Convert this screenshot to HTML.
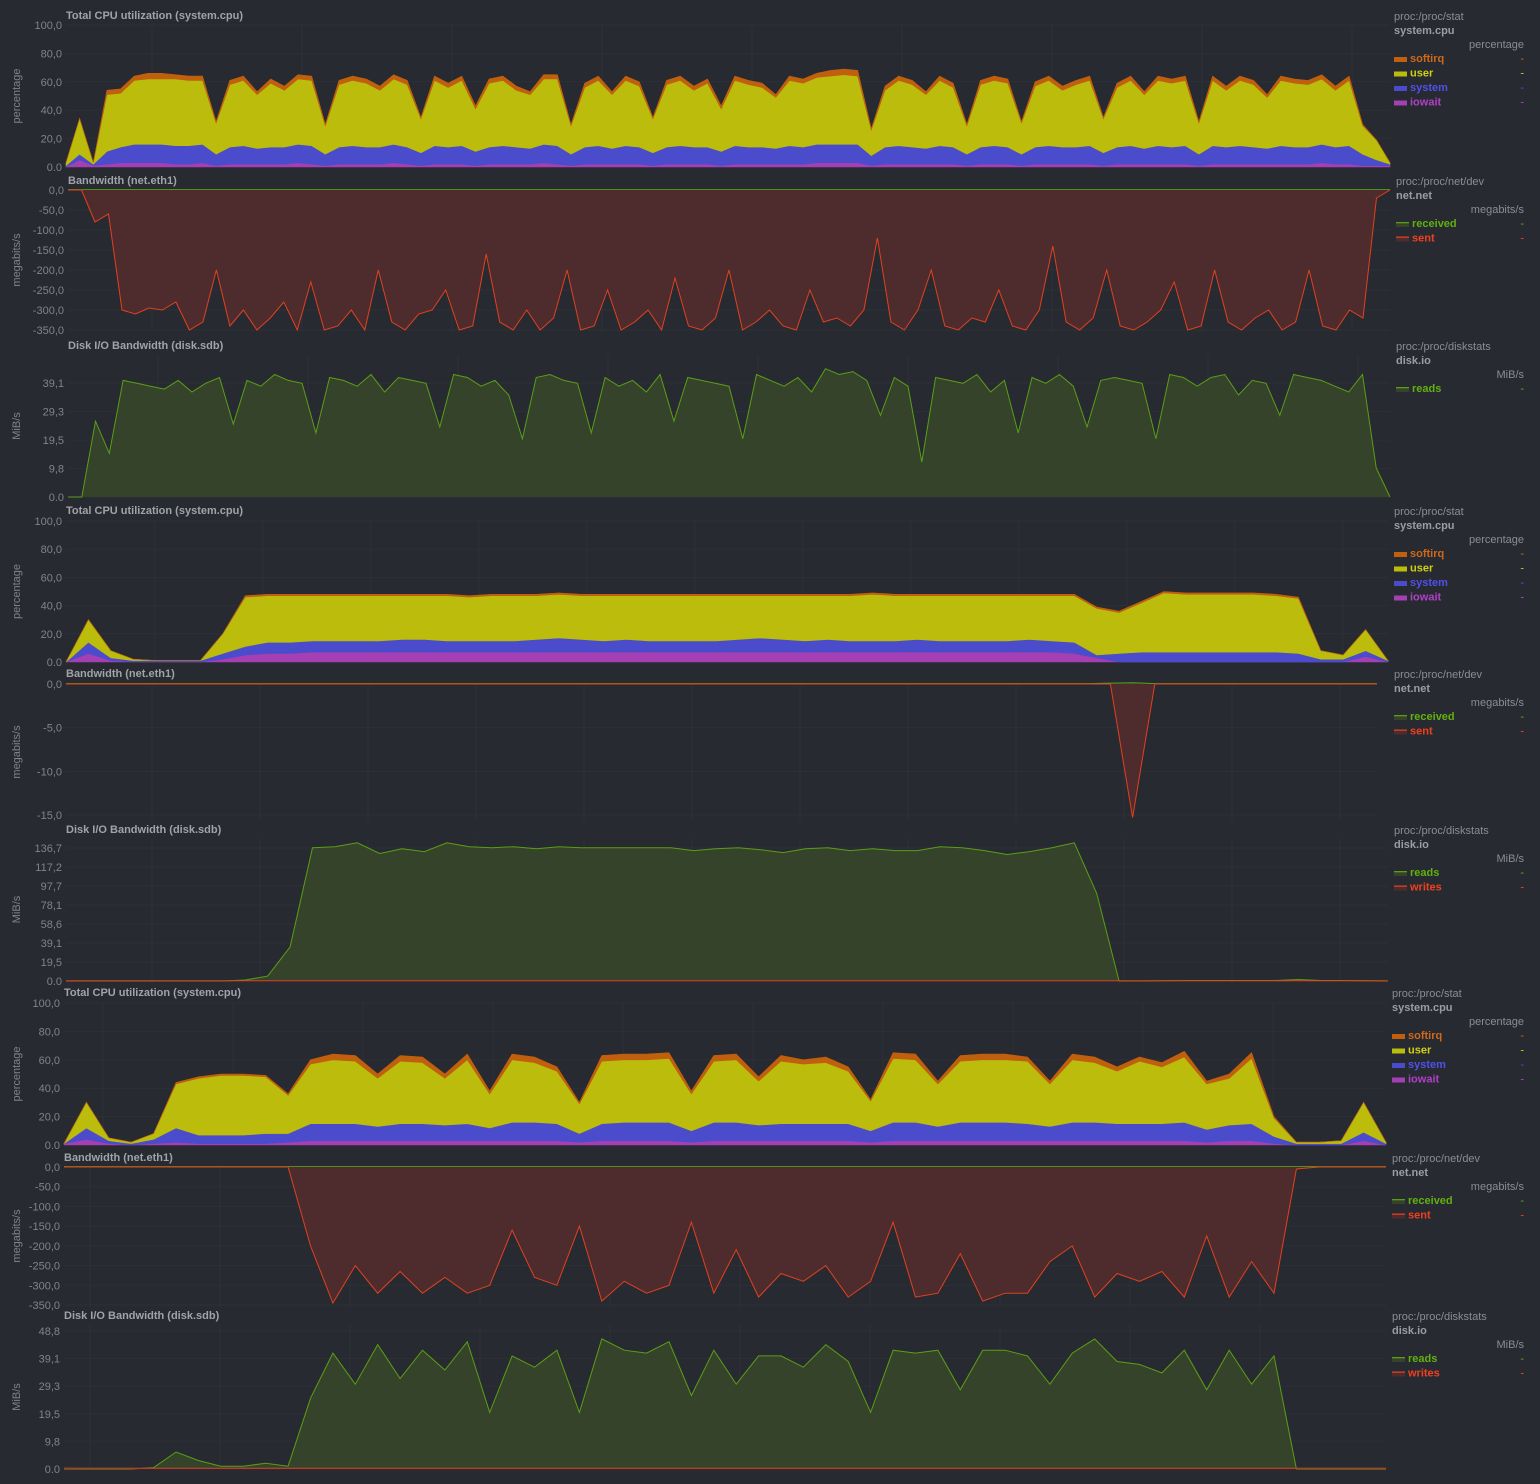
<!DOCTYPE html>
<html><head><meta charset="utf-8"><style>
html,body{margin:0;padding:0;background:#272a30;}
svg{display:block;font-family:"Liberation Sans",sans-serif;}
</style></head><body>
<svg id="root" width="1540" height="1484" viewBox="0 0 1540 1484"></svg>
<script>
// ---------- DATA ----------
const cpu1Iowait=[0,5,1,2,3,3,3,3, 2,2,3,1,2,2,2,2,2,3, 2,1,2,2,2,2,3,2,1,2, 2,2,1,2,2,2,2,3,2,1, 2,2,2,2,2,1,2,2,2,2, 1,2,2,2,2,2,2,3,3,3, 3,1,2,2,2,2,2,2,1,2, 2,2,1,2,2,2,2,2,1,2, 2,2,2,2,2,1,2,2,2,2, 2,2,2,2,3,2,2,1,1,1];
const cpu1System=[1,4,1,9,11,13,13,13, 13,13,13,8,12,13,11,12,12,13, 13,8,12,13,12,12,13,12,9,13, 12,13,10,12,13,12,11,13,13,8, 12,13,11,13,12,9,12,13,12,12, 10,13,12,12,11,13,12,13,13,13, 13,7,12,13,12,11,13,12,8,12, 13,12,8,12,13,12,12,13,9,12, 13,11,13,12,13,8,13,12,13,12, 11,13,12,12,13,12,13,8,4,1];
const cpu1User=[2,25,1,40,38,45,46,46, 47,46,45,22,44,46,38,45,40,46, 46,20,44,46,45,40,46,44,24,46, 42,46,30,45,46,40,38,46,47,20, 42,46,38,46,43,24,44,46,40,45, 30,46,44,42,36,46,45,47,48,49, 48,18,40,46,44,38,46,42,20,44, 46,45,22,43,46,40,44,46,24,42, 46,38,46,45,46,22,46,40,46,44, 36,46,45,44,46,40,46,20,14,1];
const cpu1Softirq=[0,0,0,3,3,3,4,4, 3,3,3,1,3,3,2,3,3,3, 3,1,3,3,3,3,3,3,1,3, 3,3,2,3,3,3,2,3,3,1, 3,3,2,3,3,1,3,3,3,3, 2,3,3,3,2,3,3,3,4,4, 4,1,3,3,3,2,3,3,1,3, 3,3,1,3,3,3,3,3,1,3, 3,2,3,3,3,1,3,3,3,3, 2,3,3,3,3,3,3,1,0,0];
const net1Sent=[0,0,-80,-60,-300,-310,-295,-300,-280, -350,-330,-200,-340,-300,-350,-320,-280,-350,-230, -350,-340,-300,-350,-200,-330,-350,-310,-300,-250, -350,-340,-160,-330,-350,-300,-350,-320,-200,-350, -340,-250,-350,-330,-300,-350,-220,-340,-350,-320, -200,-350,-330,-300,-340,-350,-250,-330,-320,-340, -300,-120,-330,-350,-300,-200,-340,-350,-320,-330, -250,-340,-350,-300,-140,-330,-350,-320,-200,-340, -350,-330,-300,-230,-350,-340,-200,-330,-350,-320, -300,-350,-330,-200,-340,-350,-300,-320,-20,0];
const net1Received=net1Sent.map(()=>1);
const disk1Reads=[0,0,26,15,40,39,38, 37,40,36,39,41,25,40,38,42,40, 39,22,41,40,38,42,36,41,40,39, 24,42,41,38,40,35,20,41,42,40, 39,22,41,38,40,36,42,26,41,40, 39,38,20,42,40,38,41,36,44,42, 43,40,28,41,38,12,41,40,39,42, 36,40,22,41,39,42,38,24,40,41, 40,39,20,42,41,38,41,42,35,40, 39,28,42,41,40,38,36,42,10,0];

const cpu2Iowait=[0,6,1,0,0,0,0,2,5,6, 6,7,7,7,7,7,7,7,7,7, 7,7,7,7,7,7,7,7,7,7, 7,7,7,7,7,7,7,7,7,7, 7,7,7,7,7,6,3,0,0,0, 0,0,0,0,0,0,0,0,4,0];
const cpu2System=[0,8,2,1,1,1,1,4,6,8, 8,8,8,8,8,9,9,8,8,8, 8,9,10,9,8,9,8,8,8,8, 9,10,9,8,9,8,8,8,9,8, 8,8,8,9,8,8,2,6,7,7, 7,7,7,7,7,6,2,2,4,1];
const cpu2User=[0,16,5,1,0,0,0,14,35,33, 33,32,32,32,32,31,31,32,31,32, 32,31,31,31,32,31,32,32,32,32, 31,30,31,32,31,32,33,32,31,32, 32,32,32,31,32,33,33,29,35,42, 41,41,41,41,40,39,6,3,15,0];
const cpu2Softirq=[0,0,0,0,0,0,0,0,1,1, 1,1,1,1,1,1,1,1,1,1, 1,1,1,1,1,1,1,1,1,1, 1,1,1,1,1,1,1,1,1,1, 1,1,1,1,1,1,1,1,1,1, 1,1,1,1,1,1,0,0,0,0];
const net2Sent=[0,0,0,0,0,0,0,0,0,0, 0,0,0,0,0,0,0,0,0,0, 0,0,0,0,0,0,0,0,0,0, 0,0,0,0,0,0,0,0,0,0, 0,0,0,0,0,0,0,0,-15.3,0, 0,0,0,0,0,0,0,0,0,0];
const net2Received=[0.05,0.05,0.05,0.05,0.05,0.05,0.05,0.05,0.05,0.05, 0.05,0.05,0.05,0.05,0.05,0.05,0.05,0.05,0.05,0.05, 0.05,0.05,0.05,0.05,0.05,0.05,0.05,0.05,0.05,0.05, 0.05,0.05,0.05,0.05,0.05,0.05,0.05,0.05,0.05,0.05, 0.05,0.05,0.05,0.05,0.05,0.05,0.05,0.1,0.15,0.05, 0.05,0.05,0.05,0.05,0.05,0.05,0.05,0.05,0.05,0.05];
const disk2Reads=[0,0,0,0,0,0,0,0,1,5, 35,137,138,142,131,136,133,142,138,137, 138,136,138,137,137,137,137,137,134,136, 137,135,132,136,137,134,136,134,134,138, 137,134,130,133,137,142,90,0,0,0.3, 0.5,0.5,0.5,0.5,0.5,1.5,0.5,0.5,0.2,0];
const disk2Writes=disk2Reads.map(()=>0.3);

const cpu3Iowait=[1,4,1,0,1,2,1,1,1,1, 2,3,3,3,3,3,3,3,3,3, 3,3,3,2,3,3,3,3,2,3, 3,3,3,3,3,3,2,3,3,3, 3,3,3,3,3,3,3,3,3,3, 3,2,3,3,1,0,0,0,3,0];
const cpu3System=[0,8,2,1,3,10,6,6,6,7, 6,12,12,12,10,12,12,11,12,9, 13,13,12,6,12,13,13,13,8,13, 13,11,12,12,12,12,8,13,13,10, 13,13,13,12,10,13,13,12,12,12, 13,9,11,12,5,1,1,1,6,1];
const cpu3User=[0,18,2,1,4,31,40,42,42,40, 27,42,45,44,34,44,43,33,45,24, 44,42,37,21,44,44,44,45,26,43, 44,31,44,42,43,37,21,45,44,30, 43,44,44,44,30,44,42,37,44,40, 46,32,33,46,13,1,1,2,21,1];
const cpu3Softirq=[0,0,0,0,0,1,1,1,1,1, 1,3,4,4,3,4,4,3,4,2, 4,4,3,1,4,4,4,4,2,4, 4,3,4,3,4,3,1,4,4,2, 4,4,4,3,2,4,4,3,3,3, 4,2,3,4,1,0,0,0,0,0];
const net3Sent=[0,0,0,0,0,0,0,0,0,0, 0,-200,-345,-250,-320,-265,-320,-280,-320,-300, -160,-280,-300,-150,-340,-290,-320,-300,-140,-320, -210,-330,-270,-290,-250,-330,-290,-140,-330,-320, -220,-340,-320,-320,-240,-200,-330,-270,-290,-265, -330,-175,-330,-240,-320,-5,0,0,0,0];
const net3Received=net3Sent.map(()=>1);
const disk3Reads=[0,0,0,0,0.5,6,3,1,1,2, 1,25,41,30,44,32,42,35,45,20, 40,36,42,20,46,42,41,45,26,42, 30,40,40,36,44,38,20,42,41,42, 28,42,42,40,30,41,46,38,37,34, 42,28,42,30,40,0,0,0,0,0];
const disk3Writes=disk3Reads.map(()=>0.3);

const cpuTicks=[0,20,40,60,80,100];
const cpuTickLabels=["0.0","20,0","40,0","60,0","80,0","100,0"];
const netTicks=[0,-50,-100,-150,-200,-250,-300,-350];
const netTickLabels=["0,0","-50,0","-100,0","-150,0","-200,0","-250,0","-300,0","-350,0"];
const net2Ticks=[0,-5,-10,-15];
const net2TickLabels=["0,0","-5,0","-10,0","-15,0"];
const disk1Ticks=[0,9.8,19.5,29.3,39.1];
const disk1TickLabels=["0.0","9,8","19,5","29,3","39,1"];
const disk2Ticks=[0,19.5,39.1,58.6,78.1,97.7,117.2,136.7];
const disk2TickLabels=["0.0","19,5","39,1","58,6","78,1","97,7","117,2","136,7"];
const disk3Ticks=[0,9.8,19.5,29.3,39.1,48.8];
const disk3TickLabels=["0.0","9,8","19,5","29,3","39,1","48,8"];

// ---------- DRAW ----------
const NS="http://www.w3.org/2000/svg";
const root=document.getElementById('root');
function mk(tag,attrs,parent){const e=document.createElementNS(NS,tag);for(const k in attrs)e.setAttribute(k,attrs[k]);(parent||root).appendChild(e);return e;}
function txt(s,attrs,parent){const e=mk('text',attrs,parent);e.textContent=s;return e;}

const COL={softirq:'#c0600e',user:'#bcbc0c',system:'#4a4ccc',iowait:'#a43fb4',received:'#5a9e16',sent:'#e2401e',reads:'#5a9e16',writes:'#e2401e'};
const LCOL={softirq:'#d0681a',user:'#d0d010',system:'#5050e8',iowait:'#b040c8',received:'#62b010',sent:'#f04020',reads:'#62b010',writes:'#f04020'};

function panel(p){
  const g=mk('g',{});
  
  
  const x0=p.x0,x1=p.x1,yb=p.yBottom,yt=p.yTop,vmin=p.vmin,vmax=p.vmax;
  const sy=v=>yb+(v-vmin)/(vmax-vmin)*(yt-yb);
  for(let gx=p.gridStart;gx<x1;gx+=p.gridStep){const l=mk('line',{x1:gx,x2:gx,y1:p.plotTop,y2:p.plotBottom,stroke:'#2d3137','stroke-width':1},g);}
  p.ticks.forEach((t,i)=>{
    const y=sy(t);
    const l=mk('line',{x1:x0,x2:x1,y1:y,y2:y,stroke:'#2d3137','stroke-width':1},g);
    
    
    const tl=txt(p.tickLabels[i],{x:x0-4,y:y+4,'text-anchor':'end','font-size':11,fill:'#80848a'},g);
    
    
  });
  const tt=txt(p.title,{x:p.titleX,y:p.titleY,'font-size':11,'font-weight':'bold',fill:'#a0a3a8'},g);
  
  
  const cy=(p.plotTop+p.plotBottom)/2;
  const yt2=txt(p.unit,{x:0,y:0,'text-anchor':'middle','font-size':11,fill:'#80848a',transform:`translate(20,${cy}) rotate(-90)`},g);
  
  
  const n=p.series[0].values.length;
  const sx=i=>x0+i*(x1-x0)/(n-1);
  if(p.stacked){
    let base=new Array(n).fill(0);
    p.series.forEach(s=>{
      const top=base.map((b,i)=>b+s.values[i]);
      let d='M'+sx(0)+','+sy(top[0]);
      for(let i=1;i<n;i++)d+='L'+sx(i).toFixed(1)+','+sy(top[i]).toFixed(1);
      for(let i=n-1;i>=0;i--)d+='L'+sx(i).toFixed(1)+','+sy(base[i]).toFixed(1);
      const a=mk('path',{d:d+'Z',fill:COL[s.key],stroke:COL[s.key],'stroke-width':0.6},g);
      
      
      base=top;
    });
  }else{
    p.series.forEach(s=>{
      let line='M'+sx(0)+','+sy(s.values[0]);
      for(let i=1;i<n;i++)line+='L'+sx(i).toFixed(1)+','+sy(s.values[i]).toFixed(1);
      const area=line+'L'+sx(n-1)+','+sy(0)+'L'+sx(0)+','+sy(0)+'Z';
      const a=mk('path',{d:area,fill:s.fill,stroke:'none'},g);
      
      
      const l=mk('path',{d:line,fill:'none',stroke:COL[s.key],'stroke-width':1},g);
      
      
    });
  }
  const lx=p.legX,ly=p.legY;
  const lg=mk('g',{},g);
  
  
  const a1=txt(p.src,{x:lx,y:ly,'font-size':11,fill:'#8a8e93'},lg);
  
  
  const a2=txt(p.ctx,{x:lx,y:ly+14,'font-size':11,'font-weight':'bold',fill:'#9a9da2'},lg);
  
  
  const a3=txt(p.unit,{x:1524,y:ly+28,'text-anchor':'end','font-size':11,fill:'#8a8e93'},lg);
  
  
  const order=p.stacked?p.series.slice().reverse():p.series;
  order.forEach((s,i)=>{
    const y=ly+42+i*14.5;
    const e=mk('g',{},lg);
    
    
    if(p.stacked){mk('rect',{x:lx,y:y-5,width:13,height:5,fill:COL[s.key]},e);}
    else{mk('rect',{x:lx,y:y-5,width:13,height:5,fill:s.fill},e);mk('rect',{x:lx,y:y-5,width:13,height:1.3,fill:COL[s.key]},e);}
    txt(s.key,{x:lx+16,y:y,'font-size':11,'font-weight':'bold',fill:LCOL[s.key]},e);
    txt('-',{x:1524,y:y,'text-anchor':'end','font-size':11,fill:LCOL[s.key]},e);
  });
}
const RED='#4e2c2d',GRN='#36432b';
function cpuSeries(io,sys,us,so){return [{key:'iowait',values:io},{key:'system',values:sys},{key:'user',values:us},{key:'softirq',values:so}];}

panel({name:'cpu-chart-1',title:'Total CPU utilization (system.cpu)',titleX:66,titleY:19,x0:66,x1:1390,yBottom:167,yTop:25,vmin:0,vmax:100,plotTop:25,plotBottom:167,gridStart:152,gridStep:150,ticks:cpuTicks,tickLabels:cpuTickLabels,unit:'percentage',stacked:true,series:cpuSeries(cpu1Iowait,cpu1System,cpu1User,cpu1Softirq),legX:1394,legY:20,src:'proc:/proc/stat',ctx:'system.cpu'});
panel({name:'net-chart-1',title:'Bandwidth (net.eth1)',titleX:68,titleY:184,x0:68,x1:1390,yBottom:190,yTop:330,vmin:0,vmax:-350,plotTop:188,plotBottom:332,gridStart:152,gridStep:150,ticks:netTicks,tickLabels:netTickLabels,unit:'megabits/s',stacked:false,series:[{key:'received',values:net1Received,fill:GRN},{key:'sent',values:net1Sent,fill:RED}],legX:1396,legY:185,src:'proc:/proc/net/dev',ctx:'net.net'});
panel({name:'disk-chart-1',title:'Disk I/O Bandwidth (disk.sdb)',titleX:68,titleY:349,x0:68,x1:1390,yBottom:497,yTop:383,vmin:0,vmax:39.1,plotTop:355,plotBottom:497,gridStart:158,gridStep:150,ticks:disk1Ticks,tickLabels:disk1TickLabels,unit:'MiB/s',stacked:false,series:[{key:'reads',values:disk1Reads,fill:GRN}],legX:1396,legY:350,src:'proc:/proc/diskstats',ctx:'disk.io'});

panel({name:'cpu-chart-2',title:'Total CPU utilization (system.cpu)',titleX:66,titleY:514,x0:66,x1:1388,yBottom:662,yTop:521,vmin:0,vmax:100,plotTop:521,plotBottom:662,gridStart:155,gridStep:108,ticks:cpuTicks,tickLabels:cpuTickLabels,unit:'percentage',stacked:true,series:cpuSeries(cpu2Iowait,cpu2System,cpu2User,cpu2Softirq),legX:1394,legY:515,src:'proc:/proc/stat',ctx:'system.cpu'});
panel({name:'net-chart-2',title:'Bandwidth (net.eth1)',titleX:66,titleY:677,x0:66,x1:1377,yBottom:684,yTop:815,vmin:0,vmax:-15,plotTop:684,plotBottom:820,gridStart:152,gridStep:108,ticks:net2Ticks,tickLabels:net2TickLabels,unit:'megabits/s',stacked:false,series:[{key:'received',values:net2Received,fill:GRN},{key:'sent',values:net2Sent,fill:RED}],legX:1394,legY:678,src:'proc:/proc/net/dev',ctx:'net.net'});
panel({name:'disk-chart-2',title:'Disk I/O Bandwidth (disk.sdb)',titleX:66,titleY:833,x0:66,x1:1388,yBottom:981,yTop:848,vmin:0,vmax:136.7,plotTop:838,plotBottom:981,gridStart:152,gridStep:108,ticks:disk2Ticks,tickLabels:disk2TickLabels,unit:'MiB/s',stacked:false,series:[{key:'reads',values:disk2Reads,fill:GRN},{key:'writes',values:disk2Writes,fill:RED}],legX:1394,legY:834,src:'proc:/proc/diskstats',ctx:'disk.io'});

panel({name:'cpu-chart-3',title:'Total CPU utilization (system.cpu)',titleX:64,titleY:996,x0:64,x1:1386,yBottom:1145,yTop:1003,vmin:0,vmax:100,plotTop:1003,plotBottom:1145,gridStart:103,gridStep:130,ticks:cpuTicks,tickLabels:cpuTickLabels,unit:'percentage',stacked:true,series:cpuSeries(cpu3Iowait,cpu3System,cpu3User,cpu3Softirq),legX:1392,legY:997,src:'proc:/proc/stat',ctx:'system.cpu'});
panel({name:'net-chart-3',title:'Bandwidth (net.eth1)',titleX:64,titleY:1161,x0:64,x1:1386,yBottom:1167,yTop:1305,vmin:0,vmax:-350,plotTop:1165,plotBottom:1307,gridStart:90,gridStep:130,ticks:netTicks,tickLabels:netTickLabels,unit:'megabits/s',stacked:false,series:[{key:'received',values:net3Received,fill:GRN},{key:'sent',values:net3Sent,fill:RED}],legX:1392,legY:1162,src:'proc:/proc/net/dev',ctx:'net.net'});
panel({name:'disk-chart-3',title:'Disk I/O Bandwidth (disk.sdb)',titleX:64,titleY:1319,x0:64,x1:1386,yBottom:1469,yTop:1331,vmin:0,vmax:48.8,plotTop:1325,plotBottom:1469,gridStart:90,gridStep:130,ticks:disk3Ticks,tickLabels:disk3TickLabels,unit:'MiB/s',stacked:false,series:[{key:'reads',values:disk3Reads,fill:GRN},{key:'writes',values:disk3Writes,fill:RED}],legX:1392,legY:1320,src:'proc:/proc/diskstats',ctx:'disk.io'});
</script>
</body></html>
